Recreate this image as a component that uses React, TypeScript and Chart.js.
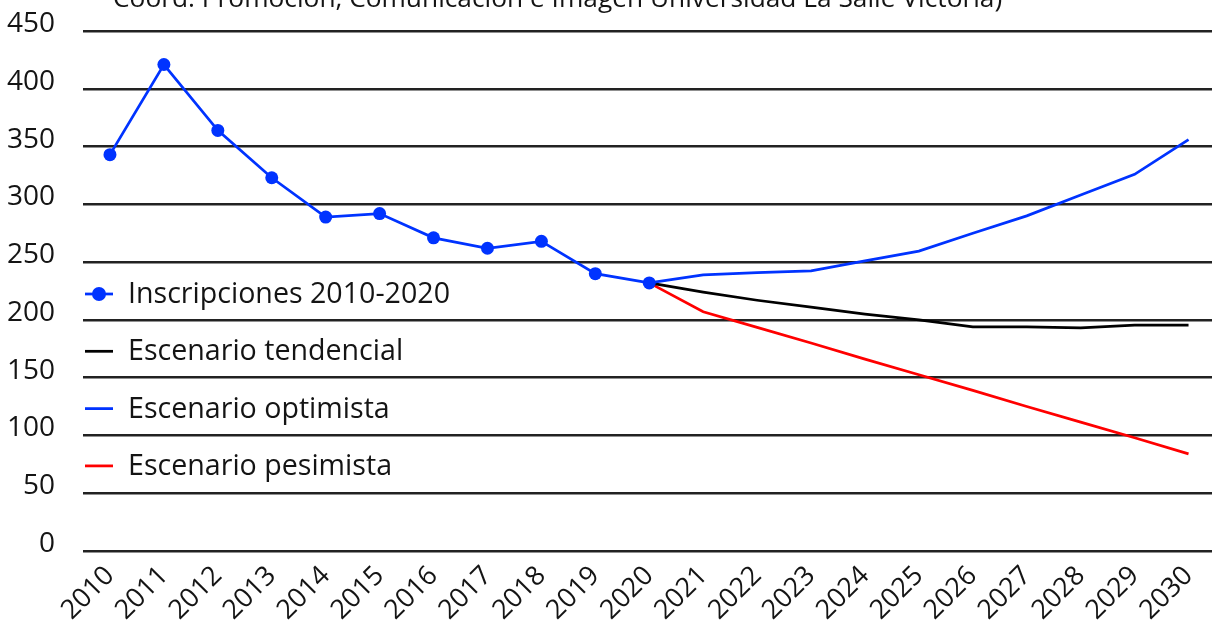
import React, { useEffect, useRef } from "react";
import { Chart, registerables } from "chart.js";

Chart.register(...registerables);

const years = [
  "2010", "2011", "2012", "2013", "2014", "2015", "2016", "2017", "2018", "2019", "2020",
  "2021", "2022", "2023", "2024", "2025", "2026", "2027", "2028", "2029", "2030",
];

const inscripciones = [343, 421, 364, 323, 289, 292, 271, 262, 268, 240, 232,
  null, null, null, null, null, null, null, null, null, null];

const tendencial = [null, null, null, null, null, null, null, null, null, null, 232,
  224, 217, 211, 205, 200, 194, 194, 193, 195.5, 195.5];

const optimista = [null, null, null, null, null, null, null, null, null, null, 232,
  239, 241, 242.5, 251, 259.5, 275, 290, 308, 326, 356];

const pesimista = [null, null, null, null, null, null, null, null, null, null, 232,
  207, 193.5, 180, 166, 152.5, 139, 125, 111.5, 98, 84];

const yTicks = [0, 50, 100, 150, 200, 250, 300, 350, 400, 450];

const titleText = "Coord. Promoción, Comunicación e Imagen Universidad La Salle Victoria)";

const FONT = "'Open Sans', 'Noto Sans', sans-serif";
const TEXT = "#141414";
const BLUE = "#0033ff";
const BLACK = "#000000";
const RED = "#ff0000";

const titlePlugin = {
  id: "clippedTitle",
  afterDraw(chart: any) {
    const ctx = chart.ctx;
    ctx.save();
    ctx.font = `26.3px ${FONT}`;
    ctx.fillStyle = TEXT;
    ctx.textBaseline = "alphabetic";
    ctx.textAlign = "left";
    ctx.fillText(titleText, chart.chartArea.left + 30, 7);
    ctx.restore();
  },
};

const legendPlugin = {
  id: "innerLegend",
  afterDraw(chart: any) {
    const ctx = chart.ctx;
    const area = chart.chartArea;
    const order = [0, 2, 1, 3];
    const x0 = area.left + 2;
    const y0 = area.top + 263;
    const step = 57.3;
    ctx.save();
    ctx.font = `28.6px ${FONT}`;
    ctx.textBaseline = "middle";
    ctx.textAlign = "left";
    order.forEach((di, i) => {
      const ds = chart.data.datasets[di];
      const y = y0 + i * step;
      ctx.strokeStyle = ds.borderColor;
      ctx.lineWidth = 2.75;
      ctx.beginPath();
      ctx.moveTo(x0, y);
      ctx.lineTo(x0 + 28, y);
      ctx.stroke();
      if (ds.pointRadius > 0) {
        ctx.fillStyle = ds.backgroundColor;
        ctx.beginPath();
        ctx.arc(x0 + 14, y, 7, 0, Math.PI * 2);
        ctx.fill();
      }
      ctx.fillStyle = TEXT;
      ctx.fillText(ds.label, x0 + 43, y + 1);
    });
    ctx.restore();
  },
};

export default function App() {
  const canvasRef = useRef<HTMLCanvasElement | null>(null);

  useEffect(() => {
    if (!canvasRef.current) return;
    const chart = new Chart(canvasRef.current, {
      type: "line",
      data: {
        labels: years,
        datasets: [
          {
            label: "Inscripciones 2010-2020",
            data: inscripciones,
            borderColor: BLUE,
            backgroundColor: BLUE,
            borderWidth: 2.75,
            pointRadius: 6.5,
            pointBorderWidth: 0,
            pointBackgroundColor: BLUE,
            tension: 0,
          },
          {
            label: "Escenario optimista",
            data: optimista,
            borderColor: BLUE,
            backgroundColor: BLUE,
            borderWidth: 2.75,
            pointRadius: 0,
            tension: 0,
          },
          {
            label: "Escenario tendencial",
            data: tendencial,
            borderColor: BLACK,
            backgroundColor: BLACK,
            borderWidth: 2.75,
            pointRadius: 0,
            tension: 0,
          },
          {
            label: "Escenario pesimista",
            data: pesimista,
            borderColor: RED,
            backgroundColor: RED,
            borderWidth: 2.75,
            pointRadius: 0,
            tension: 0,
          },
        ],
      },
      options: {
        responsive: false,
        animation: false,
        devicePixelRatio: 1,
        layout: { padding: { top: 31, right: 0, bottom: 0, left: 0 } },
        plugins: {
          legend: { display: false },
          title: { display: false },
          tooltip: { enabled: false },
        },
        scales: {
          x: {
            type: "category",
            offset: true,
            afterFit(axis: any) {
              axis.paddingLeft = 0;
              axis.paddingRight = 0;
              axis.height = 84;
            },
            grid: { display: false, drawTicks: false },
            border: { display: false },
            ticks: {
              color: TEXT,
              font: { family: FONT, size: 27 },
              maxRotation: 45,
              minRotation: 45,
              autoSkip: false,
              padding: 9,
            },
          },
          y: {
            type: "linear",
            min: 0,
            max: 450,
            afterBuildTicks(axis: any) {
              axis.ticks = yTicks.map((v) => ({ value: v }));
            },
            afterFit(axis: any) {
              axis.paddingTop = 0;
              axis.paddingBottom = 0;
              axis.width = 83;
            },
            grid: { color: "#222222", lineWidth: 2.5, drawTicks: false },
            border: { display: false },
            ticks: {
              color: TEXT,
              font: { family: FONT, size: 28 },
              padding: 28,
              labelOffset: -7,
            },
          },
        },
      },
      plugins: [titlePlugin, legendPlugin],
    });
    return () => chart.destroy();
  }, []);

  return (
    <div
      style={{
        position: "fixed",
        left: 0,
        top: 0,
        width: 1212,
        height: 635,
        overflow: "hidden",
        background: "#ffffff",
      }}
    >
      <canvas ref={canvasRef} width={1222} height={635} style={{ display: "block" }} />
    </div>
  );
}
